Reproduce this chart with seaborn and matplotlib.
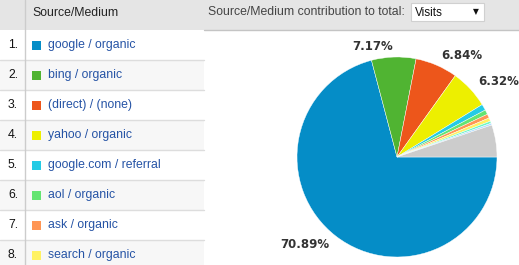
import matplotlib
matplotlib.use("Agg")
import matplotlib.pyplot as plt
from matplotlib.patches import Rectangle
import seaborn as sns

# ---- data ----
sources = ["google / organic", "bing / organic", "(direct) / (none)", "yahoo / organic",
           "google.com / referral", "aol / organic", "ask / organic", "search / organic"]
shares = [70.89, 7.17, 6.84, 6.32, 1.00, 0.75, 0.65, 0.55, 0.35, 0.30, 5.18]
colors = ["#058DC7", "#50B432", "#ED561B", "#EDEF00", "#24CBE5", "#64E572",
          "#FF9655", "#FFF263", "#6AF9C4", "#B2DEFF", "#CCCCCC"]
header_left = "Source/Medium"
header_right = "Source/Medium contribution to total:"
metric = "Visits"

sns.set_theme(style="white")
plt.rcParams["font.family"] = ["Liberation Sans", "DejaVu Sans"]

W, H = 519, 265
fig = plt.figure(figsize=(W / 100, H / 100), dpi=100)
fig.patch.set_facecolor("white")

ax = fig.add_axes([0, 0, 1, 1])
ax.set_xlim(0, W)
ax.set_ylim(H, 0)
ax.axis("off")

FS = 8.8
# header
ax.add_patch(Rectangle((0, 0), W, 29.5, facecolor="#E5E5E5", edgecolor="none"))
ax.plot([204, W], [29.5, 29.5], color="#C4C4C4", lw=1)
ax.text(32, 12.5, header_left, fontsize=FS, color="#222222", va="center", ha="left")
ax.text(208, 12, header_right, fontsize=FS, color="#444444", va="center", ha="left")
ax.add_patch(Rectangle((411, 3), 73, 18, facecolor="white", edgecolor="#D0D0D0", lw=0.8))
ax.text(415, 12.5, metric, fontsize=8.5, color="#111111", va="center", ha="left")
ax.text(476, 12, "▼", fontsize=5.5, color="#111111", va="center", ha="center",
        family="DejaVu Sans")

# rows
row_h = 30
for i, name in enumerate(sources):
    top = 29.5 + i * row_h
    bg = "white" if i % 2 == 0 else "#F7F7F7"
    ax.add_patch(Rectangle((0, top), 204, row_h, facecolor=bg, edgecolor="none"))
    ax.plot([0, 204], [top + row_h, top + row_h], color="#DDDDDD", lw=1)
    cy = top + 15.5
    ax.text(8, cy, f"{i + 1}.", fontsize=FS, color="#111111", va="center", ha="left")
    ax.add_patch(Rectangle((32, cy - 4.5), 9, 9, facecolor=colors[i], edgecolor="none"))
    ax.text(48, cy, name, fontsize=FS, color="#2553A5", va="center", ha="left")
ax.plot([24.5, 24.5], [0, H], color="#CCCCCC", lw=1)

# pie
cx, cy0, r = 397, 157, 100
pax = fig.add_axes([(cx - r) / W, (H - cy0 - r) / H, 2 * r / W, 2 * r / H])
labels = [f"{v:.2f}%" if v >= 5.5 else "" for v in shares]
wedges, texts = pax.pie(shares, colors=colors, startangle=0, counterclock=False,
                        labels=labels, labeldistance=1.11,
                        wedgeprops=dict(linewidth=0.3, edgecolor="white"),
                        textprops=dict(fontsize=8.5, color="#333333", fontweight="bold",
                                       family="DejaVu Sans"))
pax.set_xlim(-1, 1)
pax.set_ylim(-1, 1)
pax.axis("off")

fig.savefig("out.png", dpi=100)
